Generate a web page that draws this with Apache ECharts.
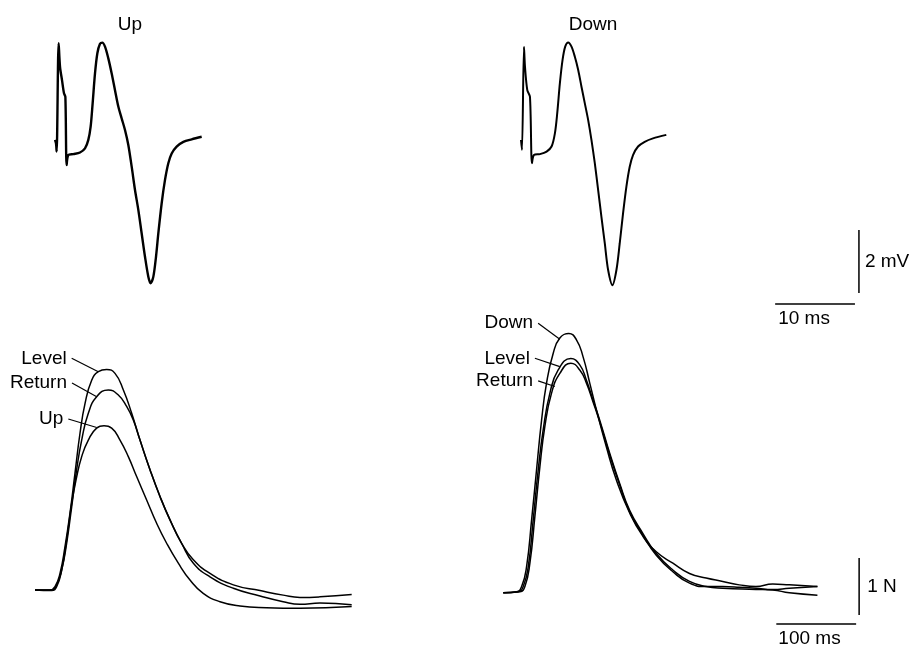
<!DOCTYPE html>
<html>
<head>
<meta charset="utf-8">
<script src="https://cdn.jsdelivr.net/npm/echarts@6/dist/echarts.min.js"></script>
<style>
html,body{margin:0;padding:0;background:#fff;}
#chart{width:914px;height:645px;}
</style>
</head>
<body>
<div id="chart"></div>
<script>
// ---------- DATA ----------
// Panel titles
const panelTitles = ['Up', 'Down'];
// EMG traces: [time (ms), voltage (mV)]
const emgUp = [[0.625,0.32],[0.75,0.21],[0.83,-0.05],[1.08,3.39],[1.25,2.65],[1.5,2.22],[1.75,1.8],[1.92,1.69],[2.08,-0.48],[2.29,-0.16],[2.92,-0.13],[3.75,-0.08],[4.375,0.05],[4.79,0.32],[5.08,0.74],[5.33,1.48],[5.625,2.43],[5.92,3.07],[6.25,3.37],[6.54,3.41],[6.875,3.28],[7.29,2.91],[7.71,2.43],[8.125,1.9],[8.54,1.38],[8.96,1.0],[9.375,0.635],[9.79,0.16],[10.21,-0.53],[10.625,-1.27],[11.04,-1.9],[11.46,-2.65],[11.875,-3.39],[12.29,-4.02],[12.58,-4.23],[12.92,-4.02],[13.25,-3.39],[13.54,-2.65],[13.96,-1.69],[14.375,-0.95],[14.79,-0.42],[15.21,-0.11],[15.83,0.11],[16.67,0.26],[17.71,0.34],[18.96,0.42]];
const emgDown = [[0.75,0.32],[0.875,0.0],[1.125,3.28],[1.25,2.65],[1.54,1.9],[1.875,1.69],[2.125,-0.42],[2.375,-0.16],[3.125,-0.13],[3.96,-0.05],[4.58,0.11],[5.0,0.53],[5.29,1.16],[5.625,2.12],[5.96,2.86],[6.29,3.28],[6.67,3.41],[7.08,3.28],[7.5,2.96],[7.92,2.54],[8.33,2.01],[8.75,1.48],[9.17,0.95],[9.58,0.32],[10.0,-0.42],[10.42,-1.27],[10.83,-2.12],[11.25,-2.96],[11.67,-3.81],[12.21,-4.29],[12.71,-3.81],[13.125,-2.96],[13.54,-2.01],[13.96,-1.16],[14.375,-0.53],[14.79,-0.16],[15.42,0.11],[16.25,0.26],[17.29,0.37],[18.96,0.48]];
// Force traces, left panel: [time (ms), force (N)]
const forceLevelL = [[18.75,0],[37.5,0],[43.75,0.06],[50,0.29],[56.25,0.76],[62.5,1.35],[68.75,2.05],[75,2.75],[81.25,3.27],[89.6,3.68],[97.9,3.83],[108.3,3.87],[118.75,3.8],[129.2,3.51],[139.6,3.1],[150,2.63],[162.5,2.11],[175,1.64],[187.5,1.23],[202,0.82],[216.7,0.53],[237.5,0.29],[266.7,0.09],[300,-0.01],[329,-0.09],[350,-0.13],[375,-0.12],[414.6,-0.08]];
const forceReturnL = [[18.75,0],[39.6,0],[45.8,0.09],[52.1,0.35],[58.3,0.82],[64.6,1.46],[70.8,2.11],[77.1,2.63],[85.4,3.1],[95.8,3.39],[110.4,3.51],[122.9,3.42],[133.3,3.22],[141.7,2.98],[150,2.63],[162.5,2.11],[175,1.64],[187.5,1.23],[202,0.82],[216.7,0.47],[237.5,0.23],[266.7,0.03],[300,-0.105],[329,-0.205],[350,-0.25],[375,-0.23],[414.6,-0.26]];
const forceUpL = [[18.75,0],[39.6,-0.01],[45.8,0.06],[52.1,0.35],[58.3,0.88],[64.6,1.52],[70,1.93],[77.1,2.34],[85.4,2.63],[95.8,2.84],[105,2.88],[114.6,2.84],[125,2.63],[135.4,2.34],[145.8,1.99],[158.3,1.58],[170.8,1.17],[183.3,0.82],[197.9,0.47],[212.5,0.175],[229,-0.06],[250,-0.205],[275,-0.28],[308,-0.31],[350,-0.32],[414.6,-0.29]];
// Force traces, right panel
const forceDownR = [[25.4,-0.05],[42.1,-0.03],[48.4,0.06],[54.6,0.41],[60.9,1.23],[67.1,2.11],[73.4,2.98],[79.6,3.63],[87.9,4.15],[96.25,4.42],[107.5,4.5],[117.1,4.39],[125.4,4.09],[133.75,3.63],[142.1,3.16],[154.6,2.51],[167.1,1.93],[183.75,1.35],[200.4,0.94],[217.1,0.67],[237.9,0.47],[258.75,0.29],[279.6,0.21],[300.4,0.15],[321,0.09],[342,0.06],[363,0.105],[383.75,0.09],[419,0.06]];
const forceLevelR = [[25.4,-0.05],[44.2,-0.03],[50.4,0.06],[56.7,0.41],[62.9,1.23],[69.2,2.11],[75.4,2.81],[83.75,3.45],[94.2,3.86],[110,4.06],[121.25,3.95],[129.6,3.68],[137.9,3.33],[146.25,2.98],[158.75,2.4],[171.25,1.87],[183.75,1.4],[200.4,0.99],[217.1,0.64],[237.9,0.35],[258.75,0.15],[279.6,0.06],[300.4,0.03],[342,0.01],[363,0.0],[383.75,-0.05],[419,-0.09]];
const forceReturnR = [[25.4,-0.05],[46.25,-0.03],[52.5,0.06],[58.75,0.47],[65,1.29],[71.25,2.16],[77.5,2.87],[85.8,3.45],[96.25,3.8],[110,3.98],[121.25,3.86],[129.6,3.63],[137.9,3.3],[146.25,2.95],[158.75,2.37],[171.25,1.84],[183.75,1.37],[200.4,0.96],[217.1,0.61],[237.9,0.32],[258.75,0.12],[279.6,0.06],[300.4,0.06],[321,0.05],[342,0.03],[363,0.01],[383.75,0.03],[419,0.06]];
// Trace labels and their leader lines: [label end, point on curve]
const leaderLabelsL = ['Level', 'Return', 'Up'];
const leadersL = [[[64.6,4.065],[97.9,3.83]], [[65,3.63],[95.9,3.39]], [[60.4,3.0],[95.9,2.85]]];
const leaderLabelsR = ['Down', 'Level', 'Return'];
const leadersR = [[[69.1,4.68],[96.25,4.4]], [[65,4.065],[96.25,3.92]], [[69.1,3.67],[90,3.57]]];
// Scale bars
const emgTimeBar = [[32.6,-4.89],[42.6,-4.89]];   // 10 ms
const emgVoltBar = [[43.1,-2.54],[43.1,-4.54]];   // 2 mV
const forceTimeBar = [[367.5,-0.596],[467.5,-0.596]]; // 100 ms
const forceNBar = [[471.25,0.56],[471.25,-0.44]];     // 1 N
const scaleLabels = {emgTime:'10 ms', emgVolt:'2 mV', forceTime:'100 ms', forceN:'1 N'};

// ---------- LAYOUT ----------
const FONT = "'Liberation Sans', Arial, Helvetica, sans-serif";
const pxPerMV = 31.5, emgZeroY = 150;
const emgMin = -5, emgMax = 4;
const pxPerN = 57, forceZeroY = 590;
const fMin = -0.8, fMax = 4.8;

const grids = [
  {left: 50, top: emgZeroY - emgMax*pxPerMV, width: 320, height: (emgMax-emgMin)*pxPerMV},
  {left: 515, top: emgZeroY - emgMax*pxPerMV, width: 400, height: (emgMax-emgMin)*pxPerMV},
  {left: 20, top: forceZeroY - fMax*pxPerN, width: 352, height: (fMax-fMin)*pxPerN},
  {left: 483, top: forceZeroY - fMax*pxPerN, width: 432, height: (fMax-fMin)*pxPerN}
];
const xRanges = [[0,40],[0,50],[0,440],[0,540]];
const yRanges = [[emgMin,emgMax],[emgMin,emgMax],[fMin,fMax],[fMin,fMax]];

const xAxes = xRanges.map((r,i)=>({type:'value', gridIndex:i, min:r[0], max:r[1], show:false}));
const yAxes = yRanges.map((r,i)=>({type:'value', gridIndex:i, min:r[0], max:r[1], show:false}));

const lineBase = {type:'line', clip:false, silent:true, animation:false};
const trace = (data, gi, width, smooth) => Object.assign({}, lineBase, {
  xAxisIndex: gi, yAxisIndex: gi, data: data, smooth: smooth,
  showSymbol:false, symbol:'none',
  lineStyle: {color:'#000', width: width}
});
const labelStyle = {fontFamily: FONT, fontSize: 19, color: '#000'};

function leader(pts, text, gi){
  return Object.assign({}, lineBase, {
    xAxisIndex: gi, yAxisIndex: gi,
    symbol:'circle', symbolSize:0, showSymbol:true,
    itemStyle:{color:'#000'},
    lineStyle:{color:'#000', width:1.2},
    data: [
      {value: pts[0], label:Object.assign({show:true, position:'left', distance:5, formatter:text}, labelStyle)},
      {value: pts[1], label:{show:false}}
    ]
  });
}
function bar(pts, gi, labelIdx, text, pos, extra){
  const data = pts.map((p,i)=> i===labelIdx
    ? {value:p, label:Object.assign({show:true, position:pos, formatter:text}, labelStyle, extra||{})}
    : {value:p, label:{show:false}});
  return Object.assign({}, lineBase, {
    xAxisIndex: gi, yAxisIndex: gi,
    symbol:'circle', symbolSize:0, showSymbol:true,
    itemStyle:{color:'#000'},
    lineStyle:{color:'#000', width:1.5}, data: data
  });
}
const mid = (b)=>[(b[0][0]+b[1][0])/2, (b[0][1]+b[1][1])/2];

const series = [
  trace(emgUp, 0, 2.4, 0.3),
  trace(emgDown, 1, 2, 0.3),
  trace(forceLevelL, 2, 1.5, 0.5),
  trace(forceReturnL, 2, 1.5, 0.5),
  trace(forceUpL, 2, 1.5, 0.5),
  trace(forceDownR, 3, 1.5, 0.5),
  trace(forceLevelR, 3, 1.5, 0.5),
  trace(forceReturnR, 3, 1.5, 0.5),
];
leadersL.forEach((p,i)=>series.push(leader(p, leaderLabelsL[i], 2)));
leadersR.forEach((p,i)=>series.push(leader(p, leaderLabelsR[i], 3)));
series.push(bar(emgTimeBar, 1, 0, scaleLabels.emgTime, 'bottom', {align:'left', offset:[3,0], distance:5}));
series.push(bar([emgVoltBar[0], mid(emgVoltBar), emgVoltBar[1]], 1, 1, scaleLabels.emgVolt, 'right', {distance:6}));
series.push(bar(forceTimeBar, 3, 0, scaleLabels.forceTime, 'bottom', {align:'left', offset:[2,0], distance:5}));
series.push(bar([forceNBar[0], mid(forceNBar), forceNBar[1]], 3, 1, scaleLabels.forceN, 'right', {distance:8}));

const titleStyle = {fontFamily:FONT, fontSize:19, fontWeight:'normal', color:'#000'};
const option = {
  backgroundColor: '#fff',
  animation: false,
  title: [
    {text: panelTitles[0], left: 125, top: 10, textAlign: 'center', textStyle: titleStyle},
    {text: panelTitles[1], left: 588, top: 10, textAlign: 'center', textStyle: titleStyle}
  ],
  grid: grids,
  xAxis: xAxes,
  yAxis: yAxes,
  series: series
};
const chart = echarts.init(document.getElementById('chart'), null, {renderer:'canvas'});
chart.setOption(option);
</script>
</body>
</html>
